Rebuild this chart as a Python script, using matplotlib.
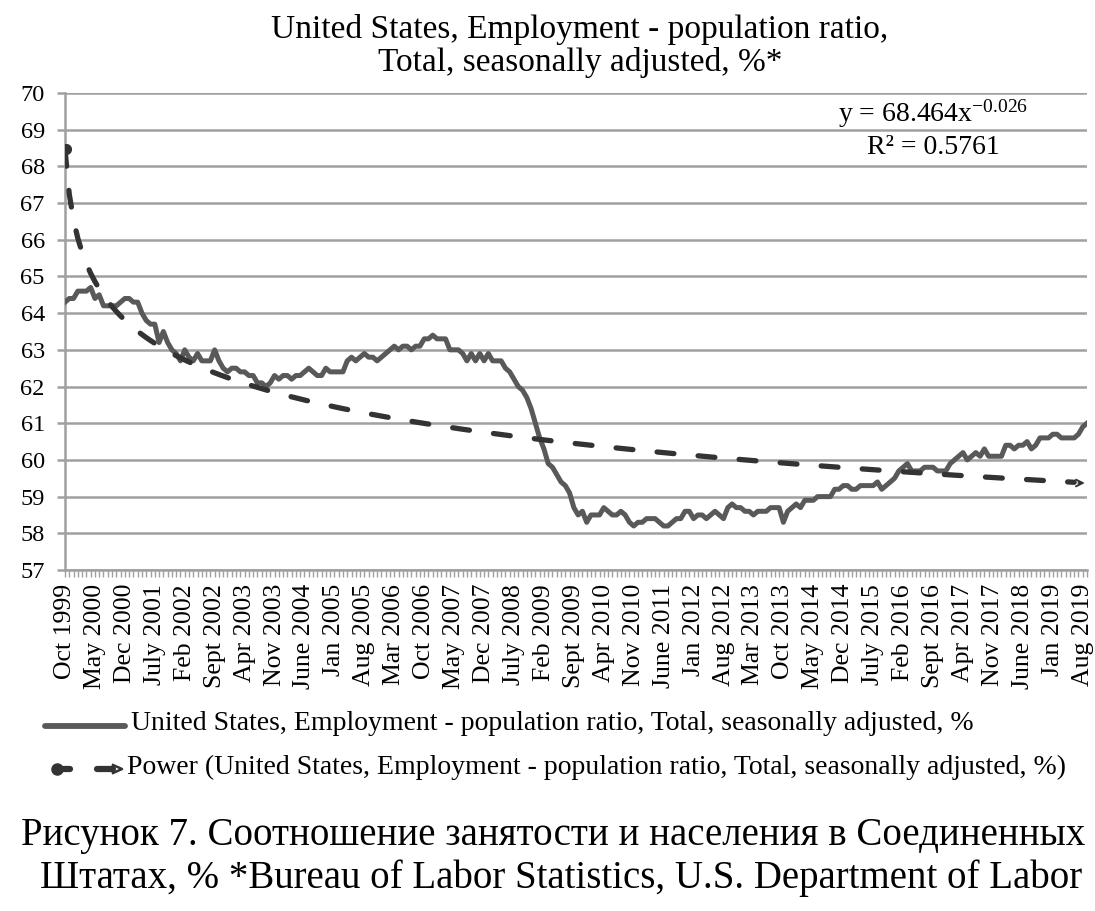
import matplotlib
matplotlib.use("Agg")
import matplotlib.pyplot as plt
from matplotlib.lines import Line2D
import numpy as np

# ---- data ----
months = ["Jan", "Feb", "Mar", "Apr", "May", "June", "July", "Aug", "Sept", "Oct", "Nov", "Dec"]

y1999 = [64.3, 64.4, 64.4]  # Oct-Dec
y2000 = [64.6, 64.6, 64.6, 64.7, 64.4, 64.5, 64.2, 64.2, 64.2, 64.2, 64.3, 64.4]
y2001 = [64.4, 64.3, 64.3, 64.0, 63.8, 63.7, 63.7, 63.2, 63.5, 63.2, 63.0, 62.9]
y2002 = [62.7, 63.0, 62.8, 62.7, 62.9, 62.7, 62.7, 62.7, 63.0, 62.7, 62.5, 62.4]
y2003 = [62.5, 62.5, 62.4, 62.4, 62.3, 62.3, 62.1, 62.1, 62.0, 62.1, 62.3, 62.2]
y2004 = [62.3, 62.3, 62.2, 62.3, 62.3, 62.4, 62.5, 62.4, 62.3, 62.3, 62.5, 62.4]
y2005 = [62.4, 62.4, 62.4, 62.7, 62.8, 62.7, 62.8, 62.9, 62.8, 62.8, 62.7, 62.8]
y2006 = [62.9, 63.0, 63.1, 63.0, 63.1, 63.1, 63.0, 63.1, 63.1, 63.3, 63.3, 63.4]
y2007 = [63.3, 63.3, 63.3, 63.0, 63.0, 63.0, 62.9, 62.7, 62.9, 62.7, 62.9, 62.7]
y2008 = [62.9, 62.7, 62.7, 62.7, 62.5, 62.4, 62.2, 62.0, 61.9, 61.7, 61.4, 61.0]
y2009 = [60.6, 60.3, 59.9, 59.8, 59.6, 59.4, 59.3, 59.1, 58.7, 58.5, 58.6, 58.3]
y2010 = [58.5, 58.5, 58.5, 58.7, 58.6, 58.5, 58.5, 58.6, 58.5, 58.3, 58.2, 58.3]
y2011 = [58.3, 58.4, 58.4, 58.4, 58.3, 58.2, 58.2, 58.3, 58.4, 58.4, 58.6, 58.6]
y2012 = [58.4, 58.5, 58.5, 58.4, 58.5, 58.6, 58.5, 58.4, 58.7, 58.8, 58.7, 58.7]
y2013 = [58.6, 58.6, 58.5, 58.6, 58.6, 58.6, 58.7, 58.7, 58.7, 58.3, 58.6, 58.7]
y2014 = [58.8, 58.7, 58.9, 58.9, 58.9, 59.0, 59.0, 59.0, 59.0, 59.2, 59.2, 59.3]
y2015 = [59.3, 59.2, 59.2, 59.3, 59.3, 59.3, 59.3, 59.4, 59.2, 59.3, 59.4, 59.5]
y2016 = [59.7, 59.8, 59.9, 59.7, 59.7, 59.7, 59.8, 59.8, 59.8, 59.7, 59.7, 59.7]
y2017 = [59.9, 60.0, 60.1, 60.2, 60.0, 60.1, 60.2, 60.1, 60.3, 60.1, 60.1, 60.1]
y2018 = [60.1, 60.4, 60.4, 60.3, 60.4, 60.4, 60.5, 60.3, 60.4, 60.6, 60.6, 60.6]
y2019 = [60.7, 60.7, 60.6, 60.6, 60.6, 60.6, 60.7, 60.9, 61.0]  # Jan-Sep

values = (y1999 + y2000 + y2001 + y2002 + y2003 + y2004 + y2005 + y2006 + y2007 +
          y2008 + y2009 + y2010 + y2011 + y2012 + y2013 + y2014 + y2015 + y2016 +
          y2017 + y2018 + y2019)

# trend line as reported on chart: y = a * x^b
TREND_A = 68.464
TREND_B = -0.026
EQ_TEXT = r"y = 68.464x$^{-0.026}$"
R2_TEXT = "R² = 0.5761"

TITLE = "United States, Employment - population ratio,\nTotal, seasonally adjusted, %*"
LEG1 = "United States, Employment - population ratio, Total, seasonally adjusted, %"
LEG2 = "Power (United States, Employment - population ratio, Total, seasonally adjusted, %)"
CAPTION1 = "Рисунок 7. Соотношение занятости и населения в Соединенных"
CAPTION2 = "Штатах, % *Bureau of Labor Statistics, U.S. Department of Labor"

# category labels
cats = []
start_year, start_month = 1999, 9  # index of Oct
for i in range(len(values)):
    m = (start_month + i) % 12
    yr = start_year + (start_month + i) // 12
    cats.append(f"{months[m]} {yr}")

# ---- plot ----
plt.rcParams['font.family'] = ['Liberation Serif', 'DejaVu Serif']
plt.rcParams['mathtext.fontset'] = 'custom'
plt.rcParams['mathtext.rm'] = 'Liberation Serif'
plt.rcParams['mathtext.it'] = 'Liberation Serif'

W, H = 1095, 911
GRID = "#a0a0a0"
fig = plt.figure(figsize=(W / 100, H / 100), dpi=100)
ax = fig.add_axes([65 / W, 1 - 570 / H, (1087 - 65) / W, (570 - 93) / H])

x = np.arange(len(values))
ax.plot(x, values, color="#595959", lw=3.6, solid_joinstyle="round", zorder=3)

xt = x + 1.0
trend = TREND_A * xt ** TREND_B
ax.plot(x[:-3], trend[:-3], color="#333333", lw=3.8, dashes=(3.2, 4.6), dash_capstyle="round", zorder=4)
ax.plot([x[0] + 0.3], [trend[0]], 'o', color="#333333", ms=7, zorder=4)
ax.annotate("", xy=(x[-1] - 0.5, trend[-1]), xytext=(x[-1] - 2.0, trend[-1]),
            arrowprops=dict(arrowstyle="->", color="#333333", lw=1.4, mutation_scale=12,
                            shrinkA=0, shrinkB=0), zorder=4)

ax.set_xlim(0, len(values) - 1)
ax.set_ylim(57, 70)
ax.set_yticks(np.arange(57, 71, 1))
ax.yaxis.grid(True, color=GRID, lw=1.8)
ax.set_axisbelow(True)
for s in ["top", "right"]:
    ax.spines[s].set_visible(False)
ax.spines["left"].set_color(GRID)
ax.spines["left"].set_linewidth(1.8)
ax.spines["bottom"].set_color(GRID)
ax.spines["bottom"].set_linewidth(1.8)
ax.tick_params(axis="y", length=5.5, width=1.8, color=GRID, labelsize=17.5, pad=9)

major = x[::7]
ax.set_xticks(major)
ax.set_xticklabels([cats[i] for i in major], rotation=90, fontsize=18.5)
ax.set_xticks(x, minor=True)
ax.tick_params(axis="x", which="both", length=5, color=GRID, width=1.0, pad=5)

fig.text(580 / W, 1 - 46 / H, TITLE, ha="center", va="center", fontsize=24, linespacing=1.05)

ax.text(933 / W, 1 - 114 / H, EQ_TEXT, transform=fig.transFigure, ha="center", va="center", fontsize=20)
ax.text(933 / W, 1 - 147 / H, R2_TEXT, transform=fig.transFigure, ha="center", va="center", fontsize=20)

# legend
fig.add_artist(Line2D([45 / W, 125 / W], [1 - 726 / H] * 2, color="#595959", lw=4.2,
                      solid_capstyle="round", transform=fig.transFigure))
fig.text(131 / W, 1 - 724 / H, LEG1, ha="left", va="center", fontsize=20)
fig.add_artist(Line2D([57 / W], [1 - 769 / H], marker="o", ms=8, color="#333333", transform=fig.transFigure))
fig.add_artist(Line2D([57 / W, 70 / W], [1 - 769 / H] * 2, color="#333333", lw=4.5,
                      solid_capstyle="round", transform=fig.transFigure))
fig.add_artist(Line2D([97 / W, 113 / W], [1 - 769 / H] * 2, color="#333333", lw=4.5,
                      solid_capstyle="round", transform=fig.transFigure))
fig.add_artist(Line2D([113 / W, 122 / W, 113 / W], [1 - 765 / H, 1 - 769 / H, 1 - 773 / H],
                      color="#333333", lw=1.8, transform=fig.transFigure))
fig.text(127 / W, 1 - 767 / H, LEG2, ha="left", va="center", fontsize=20)

fig.text(553 / W, 1 - 835 / H, CAPTION1, ha="center", va="center", fontsize=28)
fig.text(561 / W, 1 - 878 / H, CAPTION2, ha="center", va="center", fontsize=28)

fig.savefig("out.png", dpi=100)
